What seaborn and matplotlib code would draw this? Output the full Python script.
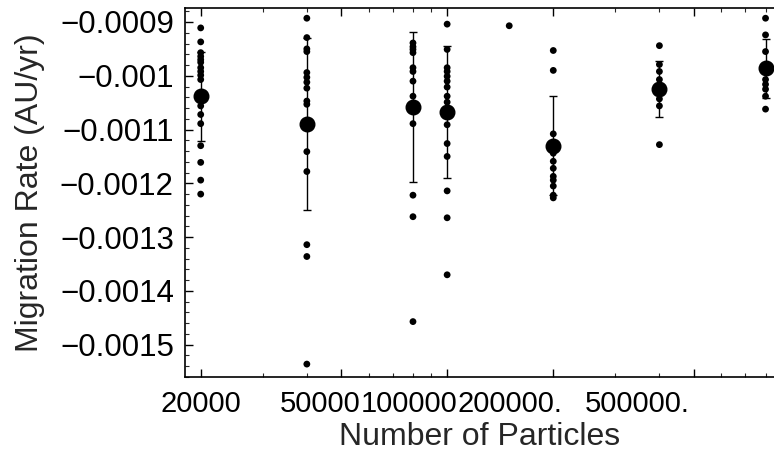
import matplotlib
matplotlib.use("Agg")
import matplotlib.pyplot as plt
import matplotlib.transforms as mtransforms
from matplotlib.ticker import FixedLocator, NullFormatter
import numpy as np
import pandas as pd
import seaborn as sns

# ---- data ----
particles = [20000, 40000, 80000, 100000, 200000, 400000, 800000]

runs_20000 = [-0.000911, -0.000937, -0.000957, -0.000964, -0.000970, -0.000975,
              -0.000985, -0.000992, -0.000999, -0.001007, -0.001056, -0.001072,
              -0.001089, -0.001130, -0.001161, -0.001194, -0.001220]
runs_40000 = [-0.000893, -0.000929, -0.000950, -0.000955, -0.000994, -0.001003,
              -0.001012, -0.001023, -0.001047, -0.001053, -0.001141, -0.001178,
              -0.001314, -0.001336, -0.001536]
runs_80000 = [-0.000939, -0.000946, -0.000951, -0.000957, -0.000985, -0.000992,
              -0.001010, -0.001038, -0.001089, -0.001222, -0.001262, -0.001457]
runs_100000 = [-0.000904, -0.000951, -0.000985, -0.000992, -0.001001, -0.001010,
               -0.001021, -0.001038, -0.001049, -0.001091, -0.001126, -0.001150,
               -0.001214, -0.001264, -0.001370]
runs_200000 = [-0.000953, -0.000990, -0.001108, -0.001144, -0.001159, -0.001172,
               -0.001187, -0.001194, -0.001205, -0.001222, -0.001227]
runs_400000 = [-0.000944, -0.000979, -0.000992, -0.001007, -0.001043, -0.001056,
               -0.001128]
runs_800000 = [-0.000893, -0.000924, -0.000955, -0.001007, -0.001016, -0.001025,
               -0.001038, -0.001062]
runs_all = [runs_20000, runs_40000, runs_80000, runs_100000, runs_200000,
            runs_400000, runs_800000]

single_particles = [150000]
single_rates = [-0.000907]

mean_rates = [-0.001038, -0.001089, -0.001058, -0.001067, -0.001130, -0.001025, -0.000986]
err_rates = [0.000083, 0.000160, 0.000140, 0.000123, 0.000092, 0.000052, 0.000055]

ytick_values = [-0.0009, -0.0010, -0.0011, -0.0012, -0.0013, -0.0014, -0.0015]
ytick_labels = ["\u22120.0009", "\u22120.001", "\u22120.0011", "\u22120.0012",
                "\u22120.0013", "\u22120.0014", "\u22120.0015"]
xtick_values = [20000, 50000, 100000, 200000, 500000]
xtick_labels = ["20000", "50000", "100000", "200000.", "500000."]

# ---- build table ----
rows = []
for n, runs in zip(particles, runs_all):
    for r in runs:
        rows.append({"N": n, "rate": r})
for n, r in zip(single_particles, single_rates):
    rows.append({"N": n, "rate": r})
df = pd.DataFrame(rows)

sns.set_theme(style="white")
plt.rcParams["font.family"] = ["Liberation Sans", "DejaVu Sans"]

fig = plt.figure(figsize=(7.74, 4.54), dpi=100)
ax = fig.add_axes([185 / 774, 77 / 454, 590 / 774, 369 / 454])

sns.scatterplot(data=df, x="N", y="rate", color="black", s=24,
                edgecolor="none", linewidth=0, ax=ax, zorder=3)
ax.errorbar(particles, mean_rates, yerr=err_rates, fmt="o", color="black",
            ms=10.5, elinewidth=1.0, capsize=3, capthick=1.0, zorder=4)

ax.set_xscale("log")
ax.set_xlim(18050, 851000)
ax.set_ylim(-0.001553, -0.000874)

ax.xaxis.set_major_locator(FixedLocator(xtick_values))
minor_x = [30000, 40000, 60000, 70000, 80000, 90000, 300000, 400000, 600000, 700000, 800000]
ax.xaxis.set_minor_locator(FixedLocator(minor_x))
ax.xaxis.set_minor_formatter(NullFormatter())
ax.set_xticks(xtick_values)
ax.set_xticklabels(xtick_labels)

ax.set_yticks(ytick_values)
ax.set_yticklabels(ytick_labels)
ax.set_yticks(np.arange(-0.00156, -0.00086, 0.00002), minor=True)

ax.tick_params(axis="both", which="major", direction="in", length=6, width=1,
               colors="black", top=True, bottom=True, left=True, right=False)
ax.tick_params(axis="y", which="major", labelsize=22.5, pad=8)
ax.tick_params(axis="x", which="major", labelsize=21, pad=9)
ax.tick_params(axis="both", which="minor", direction="in", length=3, width=0.8,
               top=True, bottom=True, left=True, right=False)

# shift x tick labels to match their printed positions
x_shifts = [0, -21, -38, -43, -56]
for lab, dx in zip(ax.get_xticklabels(), x_shifts):
    lab.set_transform(lab.get_transform() + mtransforms.ScaledTranslation(dx / 100, 0, fig.dpi_scale_trans))

for side in ["left", "bottom", "top"]:
    ax.spines[side].set_color("black")
    ax.spines[side].set_linewidth(1.2)
ax.spines["right"].set_visible(False)

ax.set_xlabel("Number of Particles", fontsize=23, labelpad=3)
ax.set_ylabel("Migration Rate (AU/yr)", fontsize=23, labelpad=11)
ax.grid(False)

fig.savefig("out.png", dpi=100)
